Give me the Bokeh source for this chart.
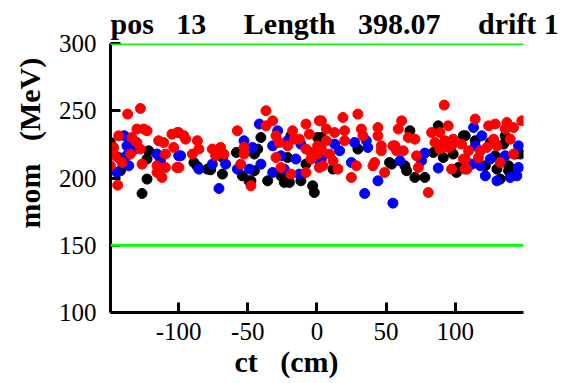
from bokeh.plotting import figure
from bokeh.models import Range1d, Span, Title, FixedTicker
from bokeh.embed import file_html
from bokeh.resources import INLINE

NB = "\u00a0"
title_text = "pos" + NB * 3 + "13" + NB * 5 + "Length" + NB * 3 + "398.07" + NB * 5 + "drift" + NB + "1"
x_label = "ct" + NB * 3 + "(cm)"
y_label = "mom" + NB * 3 + "(MeV)"
x_ticks = [-100, -50, 0, 50, 100]
x_tick_labels = {-100: "-100", -50: "-50", 0: "0", 50: "50", 100: "100"}
y_ticks = [100, 150, 200, 250, 300]
limit_lines = [300, 150]

red_x = [-136.8,-127.6,-130.1,-125.2,-122.8,-143.3,-133.7,-146.9,-130.1,-127.6,-114.4,-110.8,-104.8,-99.9,-103.5,-109.5,-149.3,-140.9,-126.4,-115.6,-109.5,-101.2,-115.6,-112.0,-144.0,-145.7,-134.8,
         -100.9,-96.1,-94.9,-86.4,-85.3,-90.0,-99.7,-75.6,-69.6,-67.2,-57.5,-52.7,-52.7,-55.1,-73.2,
         -36.8,-32.0,-36.8,-29.6,-27.2,-17.6,-16.3,-21.2,-7.9,-5.5,1.7,-7.9,-4.3,0.5,0.5,-4.3,-29.6,-26.0,-18.8,-7.9,1.7,-47.7,-12.7,
         3.2,18.8,29.6,6.8,12.8,20.0,32.1,33.2,44.1,44.1,6.8,20.0,46.5,54.9,3.2,9.2,11.6,4.3,15.2,28.5,41.7,48.9,24.9,46.5,40.5,
         92.0,61.2,58.8,66.0,70.8,82.9,88.9,94.9,85.3,92.5,98.5,97.3,88.9,94.9,104.5,56.4,57.6,62.4,72.0,73.3,97.3,105.8,106.9,80.5,
         114.4,124.1,128.9,137.3,142.1,148.1,136.1,127.7,139.7,109.6,118.1,122.8,116.8,107.2,108.4,130.1,132.5,142.1]
red_y = [247.5,251.7,236.4,236.4,235.1,231.4,230.1,222.7,226.4,221.5,227.7,226.4,232.6,233.8,222.7,217.8,209.1,211.5,210.3,209.1,207.8,207.8,204.1,200.4,194.7,216.5,217.8,
         233.8,231.4,228.9,227.7,221.5,217.8,207.8,221.5,222.7,217.8,235.1,222.7,217.8,210.3,216.5,
         250.0,242.5,238.8,231.4,226.4,235.1,228.9,223.9,240.1,232.6,242.5,221.5,219.0,223.9,217.8,214.1,215.2,207.8,202.9,204.1,207.8,194.2,228.9,
         242.5,245.0,247.5,236.4,233.8,235.1,236.4,231.4,237.5,231.4,227.7,227.7,223.9,223.9,221.5,217.8,212.8,209.1,206.6,209.1,211.5,204.1,200.4,220.2,209.1,
         254.2,242.5,236.4,230.1,228.9,233.8,233.8,238.8,226.4,227.7,228.9,223.9,221.5,222.7,225.2,223.9,220.2,220.2,216.5,207.8,206.6,214.1,206.6,189.2,
         243.8,238.8,240.1,241.3,237.5,242.5,236.4,228.9,228.9,220.2,220.2,222.7,215.2,214.1,206.6,223.9,211.5,217.8]

blue_x = [-139.2,-137.3,-131.2,-137.7,-136.0,-115.6,-113.1,-99.9,-144.5,
          -98.5,-72.0,-75.6,-66.0,-52.7,-57.5,-85.3,-70.8,
          -41.6,-28.4,-21.2,-11.6,-32.0,-26.0,-15.2,-40.5,-23.6,-32.0,-12.7,1.7,-48.8,-46.5,
          12.8,16.4,27.2,35.7,36.8,24.9,3.2,44.1,34.5,54.9,
          60.0,78.0,75.6,87.7,
          113.2,119.2,114.4,145.7,125.3,136.1,112.0,118.1,145.7,121.7,139.7,144.5,130.1]
blue_y = [231.4,223.9,221.5,216.5,209.1,217.8,212.8,216.5,204.1,
          216.5,220.2,210.3,210.3,227.7,206.6,206.6,192.2,
          240.1,235.1,227.7,225.2,223.9,216.5,214.1,210.3,206.6,204.1,202.9,212.8,206.6,222.7,
          225.2,220.2,226.4,227.7,222.7,211.5,214.1,197.9,188.5,181.3,
          212.8,218.5,212.8,207.4,
          237.5,231.4,223.9,223.9,214.1,216.5,210.3,209.1,207.8,201.6,200.4,201.6,197.9]

black_x = [-149.3,-143.3,-142.0,-121.6,-122.8,-122.8,-126.4,
           -88.9,-86.4,-79.2,-76.8,-68.3,-68.3,-58.2,-53.9,-49.1,
           -40.5,-42.8,-45.2,-45.2,-47.7,-35.6,-26.0,-23.6,-19.9,-11.6,-3.1,-1.9,-18.8,-21.2,-7.9,0.5,
           29.6,11.6,52.5,3.2,
           67.2,87.7,90.1,84.1,91.3,98.5,105.8,63.6,64.8,70.8,78.0,102.2,100.9,54.0,
           107.2,114.4,125.3,136.1,134.9,128.9,143.3,147.0,121.7,130.1,138.5,138.5,132.5]
black_y = [226.4,215.2,205.4,220.2,214.1,199.2,188.5,
           211.5,208.6,206.6,206.1,215.2,202.9,219.0,201.6,197.9,
           230.1,221.5,217.8,205.4,197.9,197.9,201.6,196.7,196.7,197.9,194.2,189.2,231.4,215.2,210.3,230.1,
           221.5,206.6,211.5,230.1,
           235.1,238.8,223.9,219.0,215.2,217.8,231.4,209.1,205.4,200.4,200.4,207.8,204.1,210.3,
           231.4,227.7,226.4,231.4,225.2,216.5,217.8,217.8,209.1,206.6,209.1,205.4,199.2]

SERIF = "Liberation Serif"

p = figure(width=565, height=383, output_backend="svg", toolbar_location=None,
           x_range=Range1d(-149.2, 149.3), y_range=Range1d(100, 300),
           min_border_left=110, min_border_right=42, min_border_top=43, min_border_bottom=71)
p.frame_width = 413
p.frame_height = 269
p.outline_line_color = None
p.xgrid.visible = False
p.ygrid.visible = False

p.title.text = title_text
p.title.text_font = SERIF
p.title.text_font_size = "30px"
p.title.text_font_style = "bold"
p.title.text_color = "black"
p.title.align = "left"
p.title.standoff = 8

for ax, ticks in ((p.xaxis[0], x_ticks), (p.yaxis[0], y_ticks)):
    ax.ticker = FixedTicker(ticks=ticks)
    ax.axis_line_width = 3
    ax.axis_line_color = "black"
    ax.major_tick_line_width = 3
    ax.major_tick_in = 10
    ax.major_tick_out = 0
    ax.minor_tick_line_color = None
    ax.major_label_text_font = SERIF
    ax.major_label_text_font_size = "25px"
    ax.major_label_text_color = "black"
p.xaxis.major_label_overrides = x_tick_labels
p.xaxis.major_label_standoff = 10
p.yaxis.major_label_standoff = 14

for loc in limit_lines:
    p.add_layout(Span(location=loc, dimension="width", line_color="#00ff00", line_width=3))

p.scatter(black_x, black_y, size=10, color="black")
p.scatter(blue_x, blue_y, size=10, color="blue")
p.scatter(red_x, red_y, size=10, color="red")

p.add_layout(Title(text=x_label, align="left", offset=124, standoff=0, text_color="black",
                   text_font=SERIF, text_font_size="30px", text_font_style="bold"), "below")
p.add_layout(Title(text=y_label, align="left", offset=84, standoff=19, text_color="black",
                   text_font=SERIF, text_font_size="30px", text_font_style="bold"), "left")

open("out.html", "w").write(file_html(p, INLINE))
